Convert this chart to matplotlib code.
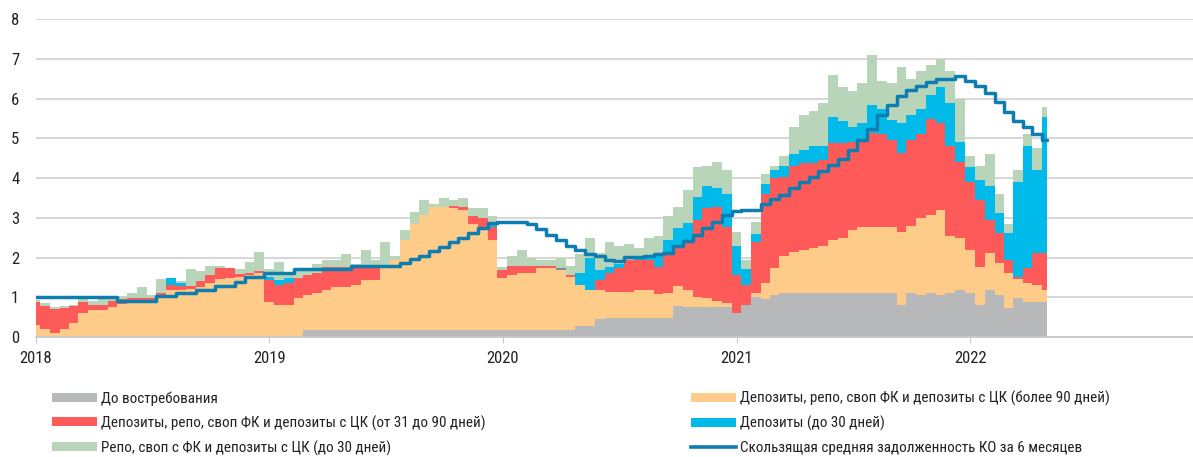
import matplotlib

matplotlib.use("Agg")

import matplotlib.dates as mdates
import matplotlib.pyplot as plt
import numpy as np
import pandas as pd
from matplotlib import font_manager
from matplotlib.lines import Line2D
from matplotlib.patches import Patch


# semi-monthly points, 2018-01-01 .. 2022-05-01
DATES = pd.date_range("2018-01-01", "2022-05-01", freq="SMS")

DEMAND = (
    [0.0] * 24
    + [0.0] * 4 + [0.18] * 20
    + [0.18] * 8 + [0.28, 0.28, 0.45] + [0.49] * 7 + [0.79] + [0.75] * 5
    + [0.60, 0.80, 1.00, 0.95, 1.05] + [1.10] * 12 + [0.81, 1.10, 1.05, 1.10, 1.05, 1.10, 1.18]
    + [1.10, 0.81, 1.18, 1.06, 0.72, 0.97, 0.89, 0.89, 0.89]
)

OVER_90 = (
    [0.30, 0.19, 0.11, 0.19, 0.35, 0.60, 0.68, 0.68, 0.75, 0.83, 0.85, 0.85,
     0.87, 0.97, 1.18, 1.18, 1.20, 1.25, 1.35, 1.45, 1.48, 1.50, 1.55, 1.62]
    + [0.87, 0.81, 0.81, 0.97, 0.87, 0.92, 1.00, 1.09, 1.09, 1.13, 1.26, 1.26,
       1.55, 1.77, 2.27, 2.67, 2.89, 3.10, 3.10, 3.06, 3.02, 2.67, 2.57, 2.27]
    + [1.30, 1.37, 1.42, 1.44, 1.55, 1.55, 1.50, 1.32, 1.02, 0.90, 0.73, 0.65,
       0.65, 0.65, 0.69, 0.69, 0.59, 0.61, 0.49, 0.43, 0.25, 0.22, 0.15, 0.10]
    + [0.00, 0.00, 0.10, 0.40, 0.70, 0.95, 1.05, 1.09, 1.15, 1.18, 1.35, 1.40,
       1.60, 1.68, 1.68, 1.68, 1.68, 1.84, 1.70, 1.95, 1.97, 2.15, 1.45, 1.32]
    + [1.09, 0.96, 0.93, 0.80, 0.88, 0.50, 0.46, 0.41, 0.29]
)

D31_90 = (
    [0.59, 0.59, 0.59, 0.53, 0.43, 0.29, 0.13, 0.13, 0.15, 0.12, 0.12, 0.12,
     0.11, 0.13, 0.12, 0.10, 0.08, 0.15, 0.20, 0.30, 0.27, 0.08, 0.05, 0.03]
    + [0.57, 0.50, 0.54, 0.51, 0.50, 0.50, 0.59, 0.50, 0.50, 0.46, 0.29, 0.29,
       0.00, 0.00, 0.00, 0.00, 0.00, 0.00, 0.00, 0.06, 0.08, 0.20, 0.25, 0.33]
    + [0.21, 0.23, 0.20, 0.18, 0.07, 0.05, 0.04, 0.05, 0.00, 0.00, 0.26, 0.46,
       0.61, 0.80, 0.76, 0.76, 0.69, 1.05, 1.00, 1.26, 1.95, 2.27, 2.38, 1.93]
    + [0.95, 0.50, 1.30, 2.25, 2.25, 1.99, 2.15, 2.18, 2.12, 2.17, 2.43, 2.38,
       2.20, 2.17, 2.35, 2.32, 2.18, 1.98, 2.15, 2.10, 2.43, 2.20, 2.25, 1.90]
    + [1.71, 1.68, 0.84, 0.75, 0.34, 0.03, 0.40, 0.81, 0.93]
)

DEP_30 = (
    [0.0] * 14 + [0.18, 0.07] + [0.0] * 8
    + [0.08, 0.13, 0.13] + [0.0] * 20 + [0.12]
    + [0.00, 0.00, 0.00, 0.00, 0.00, 0.00, 0.02, 0.00, 0.30, 0.82, 0.25, 0.17,
       0.10, 0.00, 0.02, 0.06, 0.30, 0.29, 0.46, 0.42, 0.58, 0.55, 0.47, 0.82]
    + [0.75, 0.40, 0.20, 0.25, 0.20, 0.26, 0.30, 0.33, 0.43, 0.35, 0.67, 0.57,
       0.40, 0.45, 0.72, 0.65, 0.51, 0.77, 0.65, 0.65, 0.60, 0.90, 1.10, 0.50]
    + [0.39, 0.50, 0.84, 0.51, 0.67, 2.40, 3.05, 2.09, 3.44]
)

REPO_30 = (
    [0.04, 0.07, 0.05, 0.06, 0.02, 0.06, 0.09, 0.14, 0.05, 0.07, 0.13, 0.28,
     0.07, 0.35, 0.00, 0.05, 0.42, 0.25, 0.25, 0.03, 0.00, 0.12, 0.30, 0.50]
    + [0.18, 0.46, 0.12, 0.22, 0.15, 0.25, 0.18, 0.18, 0.33, 0.08, 0.47, 0.22,
       0.67, 0.10, 0.25, 0.30, 0.38, 0.07, 0.22, 0.15, 0.22, 0.20, 0.25, 0.15]
    + [0.08, 0.27, 0.40, 0.20, 0.15, 0.17, 0.24, 0.25, 0.50, 0.50, 0.42, 0.63,
       0.45, 0.41, 0.29, 0.50, 0.48, 0.61, 0.54, 0.84, 0.76, 0.51, 0.65, 0.60]
    + [0.35, 0.25, 0.30, 0.25, 0.10, 0.25, 0.70, 0.90, 0.90, 1.10, 1.05, 0.85,
       0.90, 1.00, 1.25, 0.70, 0.93, 1.40, 0.90, 0.95, 0.75, 0.70, 0.80, 1.10]
    + [0.26, 0.35, 0.81, 0.48, 0.24, 0.30, 0.30, 0.55, 0.25]
)

MOVING_AVG = (
    [1.00] * 9 + [0.91] * 4
    + [1.04, 1.04, 1.10, 1.10, 1.18, 1.18, 1.28, 1.28, 1.39, 1.50, 1.50]
    + [1.60] * 3 + [1.70] * 6 + [1.79] * 5
    + [1.87, 1.96, 2.04, 2.17, 2.27, 2.40, 2.49, 2.62, 2.74, 2.88]
    + [2.90, 2.90, 2.90, 2.84, 2.72, 2.58, 2.45, 2.30, 2.18, 2.09, 2.04, 1.95,
       1.92, 2.01, 2.01, 2.05, 2.08, 2.12, 2.28, 2.42, 2.57, 2.74, 2.90, 3.07]
    + [3.18, 3.20, 3.20, 3.35, 3.47, 3.58, 3.75, 3.90, 4.02, 4.18, 4.32, 4.48,
       4.72, 4.95, 5.25, 5.58, 5.85, 6.08, 6.22, 6.33, 6.42, 6.49, 6.49, 6.58]
    + [6.45, 6.32, 6.15, 5.93, 5.66, 5.45, 5.28, 5.12, 4.96]
)

LABELS = [
    "До востребования",
    "Депозиты, репо, своп ФК и депозиты с ЦК (более 90 дней)",
    "Депозиты, репо, своп ФК и депозиты с ЦК (от 31 до 90 дней)",
    "Депозиты (до 30 дней)",
    "Репо, своп с ФК и депозиты с ЦК (до 30 дней)",
]
MA_LABEL = "Скользящая средняя задолженность КО за 6 месяцев"
COLORS = ["#b7b8ba", "#fecb89", "#fe5a5a", "#00bbea", "#b9d5b9"]
MA_COLOR = "#0e7db0"


def pick_family():
    names = {f.name for f in font_manager.fontManager.ttflist}
    for name in ["Liberation Sans Narrow", "Roboto Condensed", "Roboto"]:
        if name in names:
            return name
    return "DejaVu Sans"


def main():
    plt.rcParams["font.family"] = [pick_family(), "DejaVu Sans"]

    fig = plt.figure(figsize=(11.93, 4.57), dpi=100)
    ax = fig.add_axes([36 / 1193, 120 / 457, 1157 / 1193, 317.7 / 457])

    x = mdates.date2num(DATES.to_pydatetime())
    layers = [DEMAND, OVER_90, D31_90, DEP_30, REPO_30]
    base = np.zeros(len(x))
    for vals, color in zip(layers, COLORS):
        top = base + np.array(vals)
        ax.fill_between(x, base, top, step="mid", color=color, lw=0, zorder=2)
        base = top

    ax.plot(x, MOVING_AVG, drawstyle="steps-mid", color=MA_COLOR, lw=2.5,
            solid_capstyle="round", solid_joinstyle="round", zorder=3)

    ax.set_ylim(0, 8)
    ax.set_yticks(range(0, 9))
    ax.set_xlim(mdates.date2num(pd.Timestamp("2018-01-01")),
                mdates.date2num(pd.Timestamp("2022-12-15")))
    ax.xaxis.set_major_locator(mdates.YearLocator())
    ax.xaxis.set_major_formatter(mdates.DateFormatter("%Y"))

    ax.grid(axis="y", color="#d3d3d3", lw=1.3)
    ax.set_axisbelow(True)
    for side in ["top", "right", "left"]:
        ax.spines[side].set_visible(False)
    ax.spines["bottom"].set_color("#c8c8c8")
    ax.spines["bottom"].set_linewidth(1.3)
    ax.tick_params(axis="y", length=0, pad=12, labelsize=12, labelcolor="#222222")
    ax.tick_params(axis="x", length=4, color="#c8c8c8", pad=6, labelsize=12,
                   labelcolor="#222222")

    patches = [Patch(facecolor=c, edgecolor="none") for c in COLORS]
    ma_handle = Line2D([], [], color=MA_COLOR, lw=2.6)
    opts = dict(frameon=False, fontsize=10.9, handlelength=2.98, handleheight=0.53,
                handletextpad=0.26, labelspacing=0.64, borderpad=0, borderaxespad=0,
                loc="upper left", labelcolor="#222222")
    fig.legend([patches[0], patches[2], patches[4]], [LABELS[0], LABELS[2], LABELS[4]],
               bbox_to_anchor=(52 / 1193, 1 - 391 / 457), **opts)
    fig.legend([patches[1], patches[3], ma_handle], [LABELS[1], LABELS[3], MA_LABEL],
               bbox_to_anchor=(691 / 1193, 1 - 391 / 457), **opts)

    fig.savefig("out.png", dpi=100)
    plt.close(fig)


if __name__ == "__main__":
    main()
